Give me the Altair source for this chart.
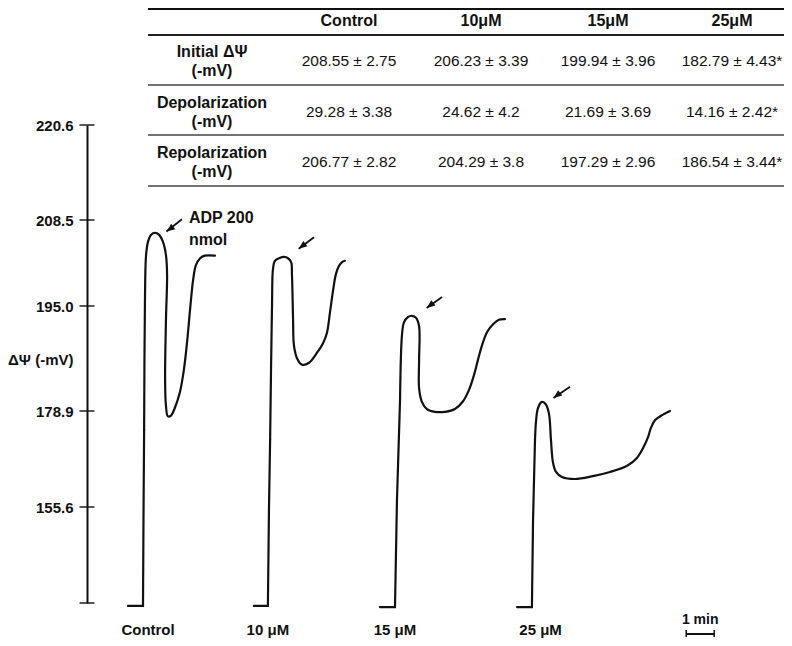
import altair as alt
import pandas as pd

FONT = "Liberation Sans"
INK = "#111111"

# ---------------- data ----------------
conditions = ["Control", "10 μM", "15 μM", "25 μM"]

# membrane-potential traces: time (min, from the axis) and ΔΨ (-mV)
ctrl_t = [1.46, 2.00, 2.02, 2.04, 2.07, 2.11, 2.18, 2.29, 2.43, 2.57, 2.71, 2.82, 2.86, 2.82, 2.79,
          2.82, 2.89, 3.00, 3.14, 3.32, 3.46, 3.57, 3.68, 3.79, 3.89, 4.04, 4.21, 4.57]
ctrl_v = [131.6, 131.6, 155.6, 174.3, 195.9, 203.0, 205.1, 206.2, 206.5, 206.2, 205.1, 203.0, 199.9, 192.9, 183.7,
          179.7, 177.6, 177.8, 179.4, 181.8, 185.2, 189.3, 194.4, 199.1, 201.4, 202.5, 202.9, 202.9]

c10_t = [5.96, 6.46, 6.50, 6.54, 6.61, 6.64, 6.71, 6.86, 7.04, 7.18, 7.29, 7.32, 7.36, 7.39, 7.50,
         7.68, 7.93, 8.21, 8.43, 8.57, 8.68, 8.79, 8.89, 9.00, 9.11, 9.21]
c10_v = [131.6, 131.6, 155.6, 171.9, 195.9, 200.7, 202.1, 202.5, 202.7, 202.5, 201.9, 199.9, 192.9, 189.0, 187.0,
         186.0, 186.3, 187.8, 189.3, 190.9, 194.1, 197.5, 200.0, 201.3, 201.9, 202.1]

c15_t = [10.46, 11.00, 11.07, 11.18, 11.25, 11.32, 11.46, 11.61, 11.75, 11.86, 11.86, 11.86, 11.96,
         12.14, 12.43, 12.79, 13.14, 13.43, 13.64, 13.82, 13.96, 14.11, 14.29, 14.50, 14.71, 14.93]
c15_v = [131.3, 131.3, 157.3, 180.6, 190.6, 192.5, 193.3, 193.5, 193.2, 191.9, 186.7, 182.4, 180.3,
         179.2, 178.7, 178.7, 179.2, 180.4, 182.1, 184.4, 186.7, 189.0, 191.0, 192.2, 192.9, 193.0]

c25_t = [15.36, 15.89, 15.93, 16.00, 16.04, 16.11, 16.25, 16.39, 16.50, 16.57, 16.64, 16.75, 16.96,
         17.43, 18.07, 18.68, 19.29, 19.64, 19.86, 20.04, 20.14, 20.29, 20.54, 20.82]
c25_v = [131.3, 131.3, 152.4, 171.9, 176.7, 179.4, 180.3, 179.9, 178.2, 171.9, 166.5, 164.1, 162.9,
         162.4, 163.1, 164.1, 165.6, 167.5, 169.9, 172.6, 174.8, 176.7, 177.9, 178.9]

RISE_END = 3  # index where the straight baseline + rise hands over to the smooth curve

# ADP addition arrows (tail -> tip)
arrow_tail_t = [3.39, 8.11, 12.68, 17.25]
arrow_tail_v = [208.6, 205.8, 196.4, 182.6]
arrow_tip_t = [2.84, 7.56, 12.13, 16.66]
arrow_tip_v = [206.7, 204.0, 194.7, 180.9]

adp_label = ["ADP 200", "nmol"]
adp_label_t = [3.64, 3.64]
adp_label_v = [208.75, 205.4]

label_t = [2.18, 6.46, 11.0, 16.2]  # condition labels under traces

# y-axis tick values (axis is drawn non-linearly)
tick_values = [155.6, 178.9, 195.0, 208.5, 220.6]
axis_bottom = 132.3

# scale bar
bar_start = 21.4
bar_length = 1.0  # min

# table
table_cols = ["Control", "10μM", "15μM", "25μM"]
table_rows = ["Initial ΔΨ\n(-mV)", "Depolarization\n(-mV)", "Repolarization\n(-mV)"]
table_vals = [
    ["208.55 ± 2.75", "206.23 ± 3.39", "199.94 ± 3.96", "182.79 ± 4.43*"],
    ["29.28 ± 3.38", "24.62 ± 4.2", "21.69 ± 3.69", "14.16 ± 2.42*"],
    ["206.77 ± 2.82", "204.29 ± 3.8", "197.29 ± 2.96", "186.54 ± 3.44*"],
]

# ---------------- layout ----------------
W, H = 686, 478
col_px = [125, 262, 394, 521, 645]
row_px = [-104, -64, -13, 37]

# ---------------- frames ----------------
rise_rows, curve_rows = [], []
for name, ts, vs in zip(conditions, [ctrl_t, c10_t, c15_t, c25_t], [ctrl_v, c10_v, c15_v, c25_v]):
    for i, (t, v) in enumerate(zip(ts, vs)):
        rec = {"trace": name, "i": i, "t": t, "v": v}
        if i <= RISE_END:
            rise_rows.append(rec)
        if i >= RISE_END:
            curve_rows.append(rec)
rise_df = pd.DataFrame(rise_rows)
curve_df = pd.DataFrame(curve_rows)

arrow_df = pd.DataFrame({"t0": arrow_tail_t, "v0": arrow_tail_v, "t1": arrow_tip_t, "v1": arrow_tip_v})
adp_df = pd.DataFrame({"t": adp_label_t, "v": adp_label_v, "txt": adp_label})
tick_df = pd.DataFrame({"v": [axis_bottom] + tick_values})
lab_df = pd.DataFrame({"t": label_t, "txt": conditions})
bar_df = pd.DataFrame({"t0": [bar_start], "t1": [bar_start + bar_length],
                       "tm": [bar_start + bar_length / 2], "txt": ["1 min"]})
cap_df = pd.DataFrame({"t": [bar_start, bar_start + bar_length]})

x_scale = alt.Scale(domain=[0, 24.5], nice=False, zero=False)
y_scale = alt.Scale(domain=[axis_bottom, 155.6, 178.9, 195.0, 208.5, 220.6],
                    range=[478, 382, 286, 181, 95, 0], zero=False, nice=False)

y_axis = alt.Axis(values=tick_values, format=".1f", ticks=False, tickSize=0, labelPadding=14,
                  labelFont=FONT, labelFontSize=15, labelFontWeight="bold", labelColor=INK,
                  domainColor=INK, domainWidth=2, grid=False,
                  title="ΔΨ (-mV)", titleAngle=0, titleAlign="right", titleBaseline="middle",
                  titleX=-14, titleY=234, titleFont=FONT, titleFontSize=15,
                  titleFontWeight="bold", titleColor=INK)

X = lambda f: alt.X(f, scale=x_scale, axis=None)
Y = lambda f: alt.Y(f, scale=y_scale, axis=None)

curves = alt.Chart(curve_df).mark_line(color=INK, strokeWidth=2.2, interpolate="catmull-rom",
                                       strokeCap="round").encode(
    x=X("t:Q"), y=alt.Y("v:Q", scale=y_scale, axis=y_axis), detail="trace:N", order="i:Q")
rises = alt.Chart(rise_df).mark_line(color=INK, strokeWidth=2.2, interpolate="linear",
                                     strokeJoin="miter", strokeCap="round").encode(
    x=X("t:Q"), y=Y("v:Q"), detail="trace:N", order="i:Q")

ticks = alt.Chart(tick_df).mark_tick(orient="horizontal", size=15, thickness=2, color=INK).encode(
    y=Y("v:Q"), x=alt.value(0))

shafts = alt.Chart(arrow_df).mark_rule(color=INK, strokeWidth=1.8).encode(
    x=X("t0:Q"), y=Y("v0:Q"), x2="t1:Q", y2="v1:Q")
heads = alt.Chart(arrow_df).mark_point(shape="M0,0L-0.85,2.1L0.85,2.1Z", filled=True, opacity=1,
                                       size=64, angle=233, color=INK).encode(x=X("t1:Q"), y=Y("v1:Q"))

adp = alt.Chart(adp_df).mark_text(font=FONT, fontSize=16, fontWeight="bold", align="left",
                                  baseline="middle", color=INK).encode(x=X("t:Q"), y=Y("v:Q"), text="txt:N")

labels = alt.Chart(lab_df).mark_text(font=FONT, fontSize=15, fontWeight="bold", align="center",
                                     baseline="middle", color=INK).encode(
    x=X("t:Q"), y=alt.value(505), text="txt:N")

bar = alt.Chart(bar_df).mark_rule(color=INK, strokeWidth=2).encode(x=X("t0:Q"), x2="t1:Q", y=alt.value(509))
caps = alt.Chart(cap_df).mark_rule(color=INK, strokeWidth=1.5).encode(x=X("t:Q"), y=alt.value(505), y2=alt.value(512))
bar_txt = alt.Chart(bar_df).mark_text(font=FONT, fontSize=14, fontWeight="bold", baseline="middle",
                                      color=INK).encode(x=X("tm:Q"), y=alt.value(495), text="txt:N")

# ---- table ----
cx = alt.Scale(domain=[0, 1, 2, 3, 4], range=col_px, zero=False, nice=False)
ry = alt.Scale(domain=[0, 1, 2, 3], range=row_px, zero=False, nice=False)

head_df = pd.DataFrame({"c": [1, 2, 3, 4], "r": [0] * 4, "txt": table_cols})
rlab_df = pd.DataFrame({"c": [0, 0, 0], "r": [1, 2, 3], "txt": table_rows})
vals = []
for ri, rv in enumerate(table_vals):
    for ci, v in enumerate(rv):
        vals.append({"c": ci + 1, "r": ri + 1, "txt": v})
val_df = pd.DataFrame(vals)

TX = alt.X("c:Q", scale=cx, axis=None)
TY = alt.Y("r:Q", scale=ry, axis=None)
t_head = alt.Chart(head_df).mark_text(font=FONT, fontSize=16, fontWeight="bold", baseline="middle",
                                      color=INK).encode(x=TX, y=TY, text="txt:N")
t_rlab = alt.Chart(rlab_df).mark_text(font=FONT, fontSize=16, fontWeight="bold", baseline="middle",
                                      lineBreak="\n", lineHeight=19, dy=-9.5,
                                      color=INK).encode(x=TX, y=TY, text="txt:N")
t_vals = alt.Chart(val_df).mark_text(font=FONT, fontSize=15.5, baseline="middle",
                                     color=INK).encode(x=TX, y=TY, text="txt:N")

dummy = pd.DataFrame({"k": [0]})
def hline(yv, w, col):
    return alt.Chart(dummy).mark_rule(color=col, strokeWidth=w).encode(
        x=alt.value(61), x2=alt.value(700), y=alt.value(yv))

chart = alt.layer(
    curves, rises, ticks, shafts, heads, adp, labels, bar, caps, bar_txt,
    hline(-116, 2.2, INK), hline(-90, 2.2, "#222"), hline(-40, 1.6, "#444"),
    hline(10, 1.6, "#444"), hline(61, 1.6, "#444"),
    t_head, t_rlab, t_vals,
).resolve_scale(x="independent", y="independent").properties(
    width=W, height=H,
    background="white",
    autosize=alt.AutoSizeParams(type="none"),
    padding={"left": 79, "top": 117, "right": 11, "bottom": 35},
).configure_view(strokeWidth=0, stroke="transparent")

chart.save("out.html", embed_options={"renderer": "svg", "actions": False})
